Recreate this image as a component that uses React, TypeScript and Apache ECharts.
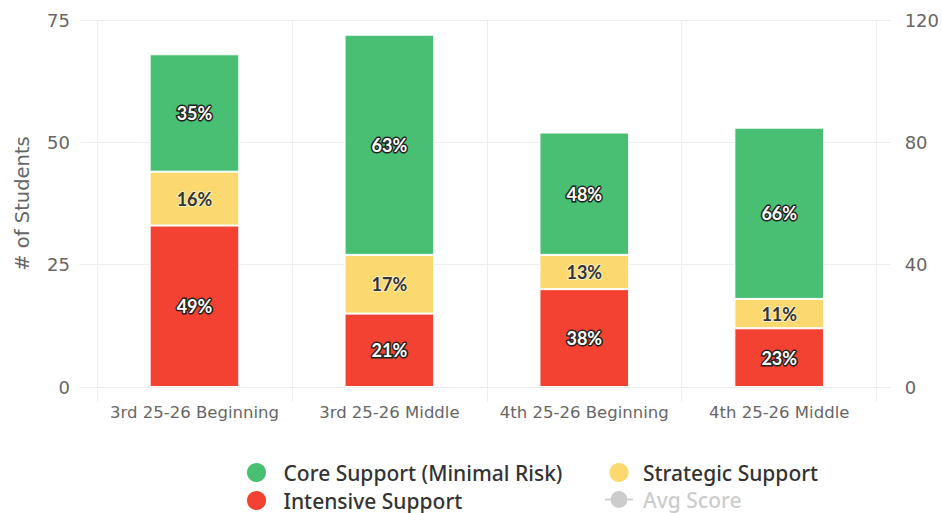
import React, { useEffect, useRef } from "react";
import * as echarts from "echarts";

const categories = ["3rd 25-26 Beginning", "3rd 25-26 Middle", "4th 25-26 Beginning", "4th 25-26 Middle"];
const intensive = [33, 15, 20, 12];
const strategic = [11, 12, 7, 6];
const core = [24, 45, 25, 35];
// Avg Score is toggled off in the reference, so none of its points are visible.
const avgScore: (number | null)[] = [];

const leftTicks = { min: 0, max: 75, interval: 25 };
const rightTicks = { min: 0, max: 120, interval: 40 };

const GREEN = "#48BF73";
const YELLOW = "#FCD96E";
const RED = "#F44232";

export default function App() {
  const ref = useRef<HTMLDivElement>(null);
  useEffect(() => {
    if (!ref.current) return;
    const chart = echarts.init(ref.current, null, { renderer: "svg" });
    const totals = categories.map((_, i) => intensive[i] + strategic[i] + core[i]);
    const pct = (p: any) => Math.round((p.value / totals[p.dataIndex]) * 100) + "%";
    const outlined = {
      show: true,
      position: "inside",
      formatter: pct,
      color: "#fff",
      fontSize: 18,
      fontWeight: "bold",
      fontFamily: "Lato",
      textBorderColor: "#222",
      textBorderWidth: 3,
    };
    const font = "DejaVu Sans";
    const legendText = { fontSize: 21, color: "#333", fontWeight: 500, fontFamily: "Noto Sans" };
    chart.setOption({
      animation: false,
      textStyle: { fontFamily: font },
      grid: { left: 97, right: 64, top: 20, bottom: 126 },
      legend: [
        {
          orient: "vertical",
          left: 245,
          top: 461,
          padding: 0,
          itemWidth: 28,
          itemHeight: 21,
          itemGap: 5,
          data: [
            { name: "Core Support (Minimal Risk)", icon: "circle" },
            { name: "Intensive Support", icon: "circle" },
          ],
          textStyle: { ...legendText, padding: [0, 0, 0, 8] },
          selected: { "Avg Score": false },
        },
        {
          orient: "vertical",
          left: 604,
          top: 461,
          padding: 0,
          itemWidth: 28,
          itemHeight: 21,
          itemGap: 5,
          inactiveColor: "#ccc",
          data: [{ name: "Strategic Support", icon: "circle" }, { name: "Avg Score" }],
          textStyle: { ...legendText, padding: [0, 0, 0, 5] },
          selected: { "Avg Score": false },
        },
      ],
      xAxis: {
        type: "category",
        data: categories,
        axisLine: { show: true, lineStyle: { color: "#eee" } },
        axisTick: { show: true, length: 15, lineStyle: { color: "#eee" } },
        splitLine: { show: true, lineStyle: { color: "#eee" } },
        axisLabel: { color: "#666", fontSize: 16.5, margin: 17, fontFamily: font, interval: 0 },
      },
      yAxis: [
        {
          type: "value",
          ...leftTicks,
          name: "# of Students",
          nameLocation: "middle",
          nameGap: 65,
          nameTextStyle: { color: "#666", fontSize: 19.5, fontFamily: font },
          axisLine: { show: false },
          axisTick: { show: true, length: 17, lineStyle: { color: "#eee" } },
          splitLine: { lineStyle: { color: "#eee" } },
          axisLabel: { color: "#666", fontSize: 18, margin: 27, fontFamily: font },
        },
        {
          type: "value",
          ...rightTicks,
          position: "right",
          axisLine: { show: false },
          axisTick: { show: true, length: 14, lineStyle: { color: "#eee" } },
          splitLine: { show: false },
          axisLabel: { color: "#666", fontSize: 18, margin: 28, fontFamily: font },
        },
      ],
      series: [
        {
          name: "Intensive Support",
          type: "bar",
          stack: "s",
          barWidth: "46%",
          data: intensive,
          itemStyle: { color: RED, borderColor: "#fff", borderWidth: 1 },
          label: outlined,
        },
        {
          name: "Strategic Support",
          type: "bar",
          stack: "s",
          data: strategic,
          itemStyle: { color: YELLOW, borderColor: "#fff", borderWidth: 1 },
          label: { ...outlined, color: "#333", textBorderColor: "rgba(255,255,255,0.6)", textBorderWidth: 2 },
        },
        {
          name: "Core Support (Minimal Risk)",
          type: "bar",
          stack: "s",
          data: core,
          itemStyle: { color: GREEN, borderColor: "#fff", borderWidth: 1 },
          label: outlined,
        },
        {
          name: "Avg Score",
          type: "line",
          yAxisIndex: 1,
          data: avgScore,
          symbol: "circle",
          itemStyle: { color: "#888" },
          lineStyle: { color: "#888" },
        },
      ],
    });
    return () => chart.dispose();
  }, []);
  return <div ref={ref} style={{ width: 942, height: 513, position: "absolute", left: 0, top: 0 }} />;
}
